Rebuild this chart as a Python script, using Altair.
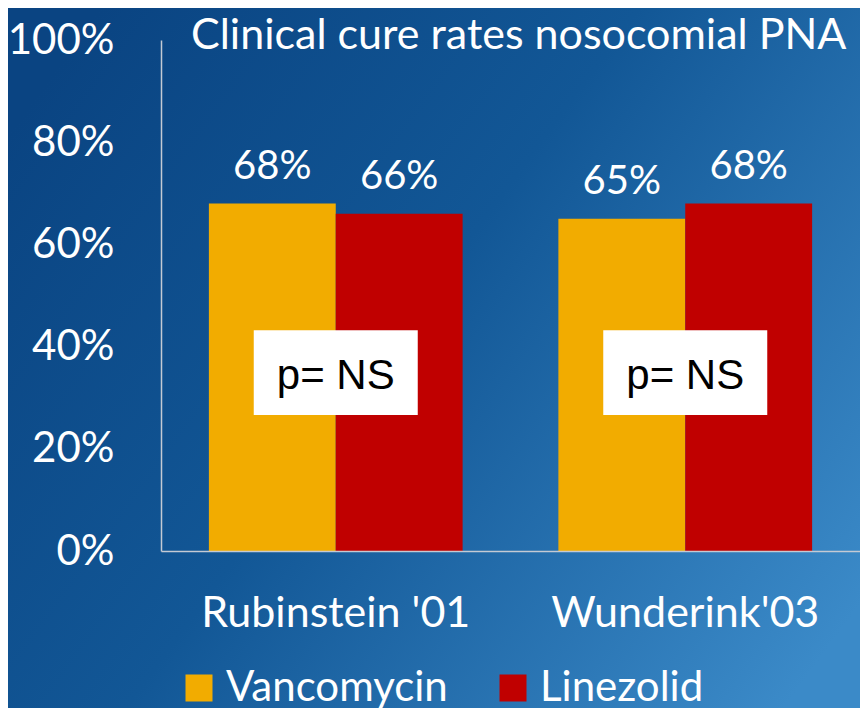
import altair as alt
import pandas as pd

studies = ["Rubinstein '01", "Wunderink'03"]
drugs = ["Vancomycin", "Linezolid"]
vanco = [68, 65]
linez = [66, 68]
colors = ["#F2AC00", "#C00000"]
y_ticks = [0, 20, 40, 60, 80, 100]
p_text = ["p= NS", "p= NS"]
p_low = [26.6, 26.6]
p_high = [43.2, 43.2]
p_mid = [34.2, 34.2]
title_text = ["Clinical cure rates nosocomial PNA"]

rows = []
for i, s in enumerate(studies):
    rows.append({"study": s, "drug": drugs[0], "value": vanco[i]})
    rows.append({"study": s, "drug": drugs[1], "value": linez[i]})
df = pd.DataFrame(rows)
pdf = pd.DataFrame({"study": studies, "txt": p_text, "lo": p_low, "hi": p_high, "mid": p_mid})

FONT = "Lato"
x_scale = alt.Scale(domain=studies, paddingInner=0.274, paddingOuter=0.137)
y_scale = alt.Scale(domain=[0, 100])

bg = alt.Chart(pd.DataFrame({"a": [0]})).mark_rect(
    color=alt.LinearGradient(
        gradient="linear", x1=0, y1=0.2, x2=1, y2=0.8,
        stops=[alt.GradientStop(color="#0A4482", offset=0),
               alt.GradientStop(color="#125796", offset=0.45),
               alt.GradientStop(color="#3B8AC8", offset=1)]
    )
).encode(x=alt.value(-160), x2=alt.value(720), y=alt.value(-40), y2=alt.value(680))

base = alt.Chart(df)
bars = base.mark_bar().encode(
    x=alt.X("study:N", scale=x_scale, sort=studies,
            axis=alt.Axis(title=None, labelAngle=0, ticks=False, labelPadding=75,
                          labelBaseline="alphabetic", labelFont=FONT, labelFontSize=43,
                          labelLimit=500, labelColor="white", domainColor="#C4CAD4",
                          domainWidth=1.5, zindex=1)),
    xOffset=alt.XOffset("drug:N", sort=drugs, scale=alt.Scale(paddingInner=0, paddingOuter=0)),
    y=alt.Y("value:Q", scale=y_scale,
            axis=alt.Axis(title=None, values=y_ticks, ticks=False, grid=False, labelPadding=47,
                          labelExpr="datum.value + '%'", labelFont=FONT, labelFontSize=42,
                          labelColor="white", domainColor="#C4CAD4", domainWidth=1.5,
                          zindex=1)),
    color=alt.Color("drug:N", sort=drugs, scale=alt.Scale(domain=drugs, range=colors),
                    legend=alt.Legend(title=None, orient="none", legendX=17, legendY=627,
                                      direction="horizontal", symbolType="square",
                                      symbolSize=729, symbolStrokeWidth=0, labelFont=FONT,
                                      labelFontSize=42, labelColor="white", labelOffset=6,
                                      labelLimit=500, columnPadding=44, padding=0,
                                      zindex=1)),
)
labels = base.transform_calculate(lbl="datum.value + '%'").mark_text(
    font=FONT, fontSize=40, color="white", baseline="alphabetic", dy=-25
).encode(
    x=alt.X("study:N", scale=x_scale, sort=studies),
    xOffset=alt.XOffset("drug:N", sort=drugs),
    y=alt.Y("value:Q", scale=y_scale),
    text="lbl:N",
)
box = alt.Chart(pdf).mark_bar(width=164, color="white").encode(
    x=alt.X("study:N", scale=x_scale, sort=studies),
    y=alt.Y("lo:Q", scale=y_scale),
    y2="hi:Q",
)
ptxt = alt.Chart(pdf).mark_text(font="Liberation Sans", fontSize=42, color="black",
                                baseline="middle").encode(
    x=alt.X("study:N", scale=x_scale, sort=studies),
    y=alt.Y("mid:Q", scale=y_scale),
    text="txt:N",
)
title = alt.Chart(pd.DataFrame({"t": title_text})).mark_text(
    font=FONT, fontSize=43, color="white", align="left", baseline="alphabetic"
).encode(x=alt.value(30), y=alt.value(9), text="t:N")

chart = alt.layer(bg, bars, labels, box, ptxt, title).properties(
    width=699, height=511,
    autosize=alt.AutoSizeParams(type="none"),
    padding={"left": 153, "top": 32, "right": 0, "bottom": 157},
).configure_view(stroke=None).configure(background="#0F4F8C")

chart.save("out.html", embed_options={"renderer": "svg", "actions": False})
